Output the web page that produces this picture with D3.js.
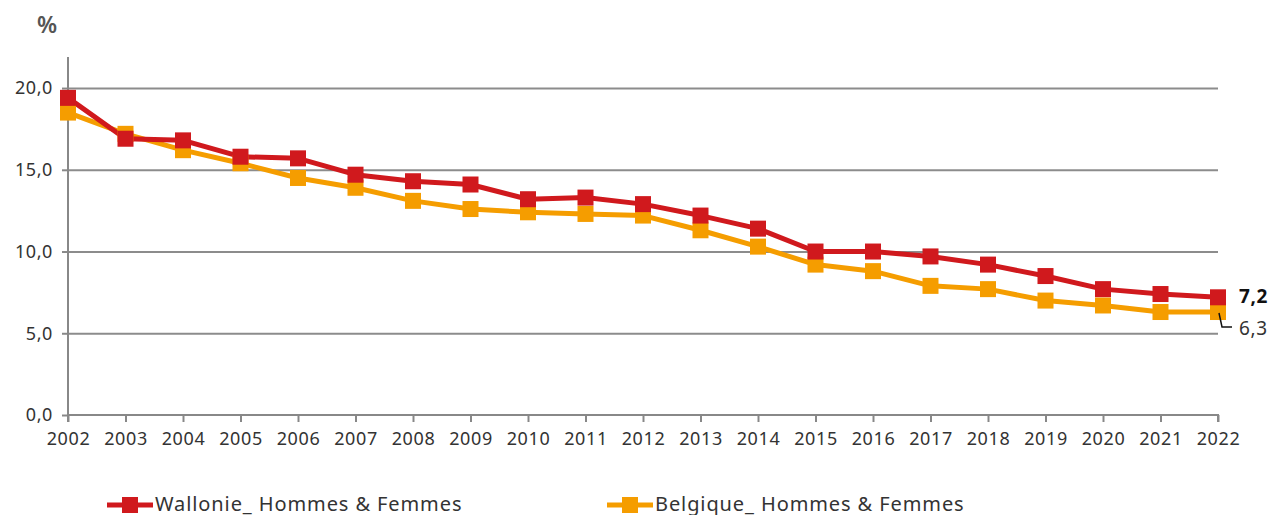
<!DOCTYPE html>
<html lang="fr">
<head>
  <meta charset="UTF-8" />
  <title>Wallonie / Belgique</title>
  <style>
    body { margin: 0; background: #fff; font-family: 'Noto Sans', sans-serif; }
    .axis text { fill: #333; font-size: 18px; letter-spacing: 0.6px; font-family: 'Noto Sans', sans-serif; }
    .axis line, .axis path { stroke: #888; stroke-width: 2px; }
    .grid line { stroke: #8c8c8c; stroke-width: 2px; }
    .grid path { display: none; }
    .line { fill: none; stroke-width: 5px; stroke-linejoin: round; }
    .legend text { font-size: 20px; letter-spacing: 0.9px; fill: #333; }
  </style>
</head>
<body>
  <svg width="1272" height="515"></svg>

  <script src="https://d3js.org/d3.v7.min.js"></script>
  <script>
    // --- data
    const years = ["2002","2003","2004","2005","2006","2007","2008","2009","2010","2011",
                   "2012","2013","2014","2015","2016","2017","2018","2019","2020","2021","2022"];
    const wallonie = [19.4, 16.9, 16.8, 15.8, 15.7, 14.7, 14.3, 14.1, 13.2, 13.3,
                      12.9, 12.2, 11.4, 10.0, 10.0, 9.7, 9.2, 8.5, 7.7, 7.4, 7.2];
    const belgique = [18.5, 17.2, 16.2, 15.4, 14.5, 13.9, 13.1, 12.6, 12.4, 12.3,
                      12.2, 11.3, 10.3, 9.2, 8.8, 7.9, 7.7, 7.0, 6.7, 6.3, 6.3];
    const yTicks = [0, 5, 10, 15, 20];
    const seriesNames = ["Wallonie_ Hommes & Femmes", "Belgique_ Hommes & Femmes"];
    const colors = ["#d0191d", "#f59d00"];

    const svg = d3.select("svg");
    const fmt = v => d3.format(".1f")(v).replace(".", ",");

    const x = d3.scalePoint().domain(years).range([68, 1218]);
    const y = d3.scaleLinear().domain([0, 21.9]).range([415, 57]);

    // horizontal grid
    svg.append("g").attr("class", "grid")
      .attr("transform", "translate(68,0)")
      .call(d3.axisLeft(y).tickValues(yTicks.slice(1)).tickSize(-1150).tickFormat(""));

    // y axis
    const yAxis = svg.append("g").attr("class", "axis")
      .attr("transform", "translate(68,0)")
      .call(d3.axisLeft(y).tickValues(yTicks).tickSize(6).tickPadding(9).tickFormat(fmt));
    yAxis.select(".domain").attr("d", `M0,${y(21.9)}V${y(0)}`);

    // x axis
    const xAxis = svg.append("g").attr("class", "axis")
      .attr("transform", `translate(0,${y(0)})`)
      .call(d3.axisBottom(x).tickSize(7).tickPadding(10));
    xAxis.select(".domain").attr("d", `M${x("2002")},7V0H${x("2022")}V7`);

    svg.append("text").attr("x", 47).attr("y", 33)
      .attr("text-anchor", "middle").attr("font-size", 23).attr("font-weight", 600).attr("fill", "#555")
      .text("%");

    const line = d3.line().x((d, i) => x(years[i])).y(d => y(d));

    [belgique, wallonie].forEach((vals, k) => {
      const c = k === 0 ? colors[1] : colors[0];
      svg.append("path").datum(vals).attr("class", "line")
        .attr("stroke", c).attr("d", line);
    });
    [belgique, wallonie].forEach((vals, k) => {
      const c = k === 0 ? colors[1] : colors[0];
      svg.append("g").selectAll("rect").data(vals).join("rect")
        .attr("x", (d, i) => x(years[i]) - 8)
        .attr("y", d => y(d) - 8)
        .attr("width", 16).attr("height", 16)
        .attr("fill", c);
    });

    // end labels
    const last = years.length - 1;
    svg.append("text")
      .attr("x", x(years[last]) + 21).attr("y", y(wallonie[last]) + 6)
      .attr("font-size", 19).attr("font-weight", "bold").attr("letter-spacing", 0.6).attr("fill", "#111")
      .text(fmt(wallonie[last]));
    svg.append("text")
      .attr("x", x(years[last]) + 21).attr("y", y(belgique[last]) + 23)
      .attr("font-size", 19).attr("letter-spacing", 0.6).attr("fill", "#333")
      .text(fmt(belgique[last]));
    svg.append("path")
      .attr("d", `M${x(years[last]) + 1},${y(belgique[last]) + 1}L${x(years[last]) + 4},${y(belgique[last]) + 15}H${x(years[last]) + 14}`)
      .attr("fill", "none").attr("stroke", "#111").attr("stroke-width", 1.5);

    // legend
    const legend = svg.append("g").attr("class", "legend");
    [[107, 0], [607, 1]].forEach(([lx, k]) => {
      const g = legend.append("g").attr("transform", `translate(${lx},505)`);
      g.append("line").attr("x1", 0).attr("x2", 46)
        .attr("stroke", colors[k]).attr("stroke-width", 5);
      g.append("rect").attr("x", 15).attr("y", -8).attr("width", 16).attr("height", 16)
        .attr("fill", colors[k]);
      g.append("text").attr("x", 48).attr("y", 6).text(seriesNames[k]);
    });
  </script>
</body>
</html>
